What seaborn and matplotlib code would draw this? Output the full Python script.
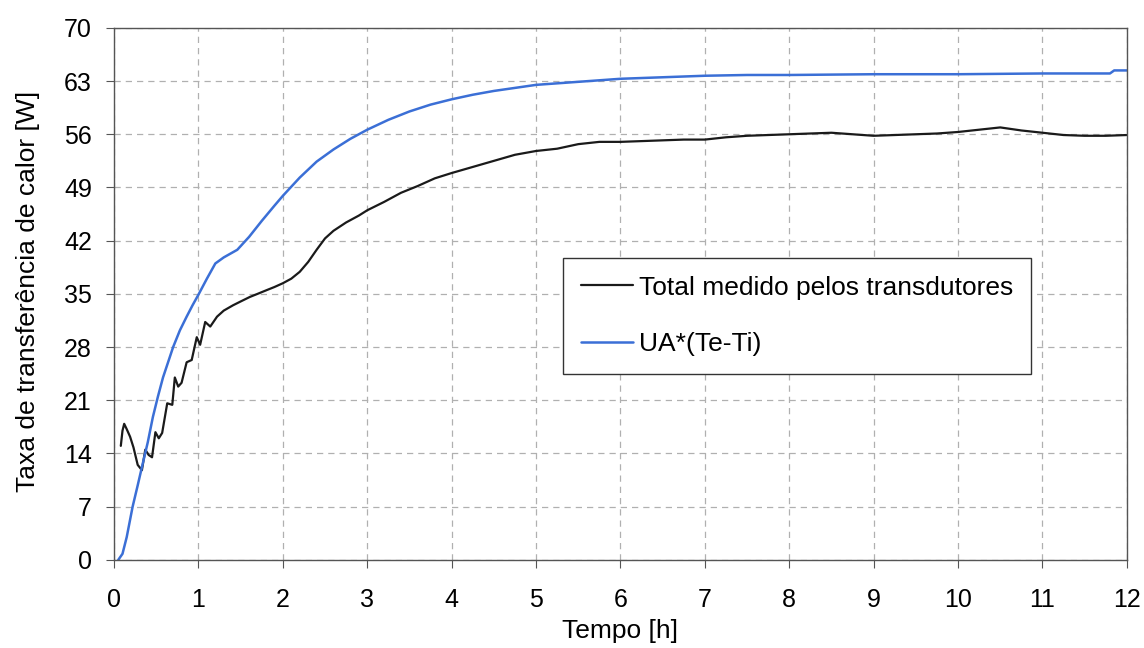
import matplotlib
matplotlib.use("Agg")
import matplotlib.pyplot as plt
import seaborn as sns

# UA*(Te-Ti) curve
t_ua = [0.05, 0.1, 0.15, 0.22, 0.28, 0.33, 0.4, 0.46, 0.52, 0.58, 0.64, 0.7, 0.78, 0.86, 0.93,
        1.0, 1.1, 1.2, 1.3, 1.46, 1.6, 1.75, 1.9, 2.0, 2.2, 2.4, 2.6, 2.8, 3.0, 3.25, 3.5, 3.75,
        4.0, 4.25, 4.5, 4.75, 5.0, 5.5, 6.0, 6.5, 7.0, 7.5, 8.0, 9.0, 10.0, 11.0, 11.8, 11.85, 12.0]
ua = [0.0, 0.8, 3.0, 7.0, 9.8, 12.2, 15.5, 18.8, 21.5, 24.0, 26.0, 28.0, 30.2, 32.0, 33.5,
      34.9, 37.0, 39.0, 39.8, 40.8, 42.5, 44.6, 46.6, 47.9, 50.3, 52.4, 54.0, 55.4, 56.6, 57.9, 59.0, 59.9,
      60.6, 61.2, 61.7, 62.1, 62.5, 62.9, 63.3, 63.5, 63.7, 63.8, 63.8, 63.9, 63.9, 64.0, 64.0, 64.4, 64.4]

# total measured by the transducers
t_med = [0.08, 0.1, 0.12, 0.15, 0.19, 0.23, 0.28, 0.33, 0.37, 0.41, 0.45, 0.49, 0.53, 0.57, 0.63,
         0.69, 0.72, 0.76, 0.8, 0.86, 0.92, 0.98, 1.02, 1.08, 1.14, 1.22, 1.3, 1.41, 1.5, 1.61,
         1.7, 1.81, 1.9, 2.0, 2.1, 2.2, 2.3, 2.4, 2.5, 2.6, 2.75, 2.9, 3.0, 3.2, 3.4, 3.6, 3.8,
         4.0, 4.25, 4.5, 4.75, 5.0, 5.25, 5.5, 5.75, 6.0, 6.25, 6.5, 6.75, 7.0, 7.25, 7.5, 7.75,
         8.0, 8.25, 8.5, 8.75, 9.0, 9.25, 9.5, 9.75, 10.0, 10.25, 10.5, 10.75, 11.0, 11.25, 11.5,
         11.75, 12.0]
med = [15.0, 17.0, 17.9, 17.2, 16.2, 14.8, 12.5, 11.8, 14.5, 13.8, 13.5, 16.8, 16.0, 16.7, 20.6,
       20.4, 24.0, 22.8, 23.3, 26.0, 26.3, 29.3, 28.3, 31.3, 30.7, 32.0, 32.8, 33.5, 34.0, 34.6,
       35.0, 35.5, 35.9, 36.4, 37.0, 37.9, 39.2, 40.8, 42.3, 43.3, 44.4, 45.3, 46.0, 47.1, 48.3, 49.2, 50.2,
       50.9, 51.7, 52.5, 53.3, 53.8, 54.1, 54.7, 55.0, 55.0, 55.1, 55.2, 55.3, 55.3, 55.6, 55.8, 55.9,
       56.0, 56.1, 56.2, 56.0, 55.8, 55.9, 56.0, 56.1, 56.3, 56.6, 56.9, 56.5, 56.2, 55.9, 55.8,
       55.8, 55.9]

x_ticks = list(range(0, 13))
y_ticks = [0, 7, 14, 21, 28, 35, 42, 49, 56, 63, 70]

sns.set_style("white")
plt.rcParams['font.family'] = ['Liberation Sans', 'DejaVu Sans']
plt.rcParams['text.color'] = 'black'
plt.rcParams['axes.labelcolor'] = 'black'

fig = plt.figure(figsize=(11.44, 6.48), dpi=100)
ax = fig.add_axes([0.0997, 0.136, 0.8853, 0.821])

sns.lineplot(x=t_med, y=med, ax=ax, color='#1a1a1a', linewidth=1.6,
             label='Total medido pelos transdutores')
sns.lineplot(x=t_ua, y=ua, ax=ax, color='#3b6fd6', linewidth=1.8,
             label='UA*(Te-Ti)')

ax.set_xlim(0, 12)
ax.set_ylim(0, 70)
ax.set_xticks(x_ticks)
ax.set_yticks(y_ticks)
ax.tick_params(labelsize=18, length=6, direction='out', left=True, bottom=True,
               colors='#555555', labelcolor='black')
ax.tick_params(axis='x', pad=14)
ax.tick_params(axis='y', pad=10)
ax.grid(True, linestyle=(0, (5, 4)), color='#b0b0b0', linewidth=0.9)
for s in ax.spines.values():
    s.set_color('#555555')
    s.set_linewidth(1.0)

ax.set_xlabel('Tempo [h]', fontsize=19)
ax.set_ylabel('Taxa de transferência de calor [W]', fontsize=19)
ax.xaxis.set_label_coords(0.5, -0.112)
ax.yaxis.set_label_coords(-0.073, 0.505)

leg = ax.legend(loc='upper left', bbox_to_anchor=(0.443, 0.568), fontsize=19,
                frameon=True, fancybox=False, edgecolor='#333333', framealpha=1,
                handlelength=2.0, handletextpad=0.2, labelspacing=1.23, borderpad=0.68,
                borderaxespad=0)
leg.get_frame().set_linewidth(1.0)

fig.savefig('out.png', dpi=100)
